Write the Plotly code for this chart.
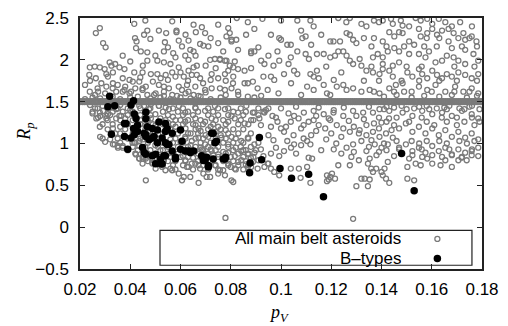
import plotly.graph_objects as go

# ---------------- data ----------------
# All main belt asteroids: scattered points (pV, Rp)
allmb_pts = [
    # upper-left region
    (0.0263,2.32),(0.0279,2.38),(0.0292,2.20),(0.0302,2.15),(0.0416,2.43),(0.046,2.47),(0.0419,2.26),(0.0425,2.22),
    (0.0468,2.35),(0.0455,2.30),(0.0423,2.14),(0.0442,2.10),(0.0468,2.09),(0.0514,2.35),(0.0543,2.32),(0.0567,2.46),
    (0.0584,2.35),(0.0584,2.33),(0.0538,2.21),(0.0593,2.23),(0.0632,2.23),(0.0652,2.42),(0.0661,2.33),(0.0698,2.32),
    (0.0685,2.39),(0.075,2.42),(0.079,2.38),(0.0796,2.32),(0.0783,2.28),(0.0803,2.24),(0.075,2.20),(0.0678,2.19),
    (0.0691,2.17),(0.0711,2.16),(0.0606,2.16),(0.0639,2.12),(0.0652,2.10),(0.0534,2.10),(0.0571,2.08),(0.037,2.05),
    (0.0468,1.99),(0.0508,1.99),(0.0534,1.97),(0.056,1.95),(0.058,2.03),(0.0619,2.05),(0.0632,2.00),(0.0718,2.00),
    (0.0737,2.01),(0.0757,2.01),(0.0777,1.99),(0.0796,1.93),(0.081,1.91),(0.0239,1.91),(0.0259,1.92),(0.0279,1.91),
    (0.0318,1.97),(0.0325,1.93),(0.0298,1.89),(0.0357,1.91),(0.0377,1.89),(0.0237,1.82),(0.0263,1.78),(0.0305,1.83),
    (0.0311,1.80),(0.0331,1.85),(0.0416,1.85),(0.0449,1.85),(0.0482,1.83),(0.0508,1.83),(0.0521,1.78),(0.0541,1.82),
    (0.0567,1.85),(0.0593,1.91),(0.060,1.85),(0.0613,1.80),(0.0632,1.87),(0.0652,1.91),(0.0665,1.93),(0.0645,1.82),
    (0.0665,1.82),(0.0678,1.78),(0.0724,1.83),(0.075,1.78),(0.0777,1.83),(0.079,1.87),(0.081,1.80),(0.037,1.78),
    (0.0397,1.76),(0.041,1.74),(0.0331,1.72),(0.0285,1.72),(0.0305,1.68),(0.0436,1.74),(0.0462,1.68),(0.0514,1.70),
    (0.0534,1.68),(0.0554,1.66),(0.0593,1.68),(0.0606,1.64),(0.0626,1.70),(0.0632,1.62),(0.0659,1.68),(0.0698,1.64),
    (0.0724,1.66),(0.0757,1.66),(0.0777,1.64),(0.0803,1.66),(0.0239,1.62),(0.0272,1.62),(0.0344,1.62),(0.037,1.62),
    (0.0397,1.60),(0.0449,1.64),(0.0468,1.58),(0.0495,1.58),(0.0534,1.57),(0.0567,1.58),(0.0586,1.57),(0.0652,1.58),
    (0.0672,1.57),(0.0824,2.50),(0.0803,2.22),(0.0822,2.24),(0.0861,2.30),(0.0829,2.12),(0.0881,2.10),(0.0757,2.00),
    (0.0783,1.99),(0.0816,1.98),(0.0829,1.89),(0.0855,1.87),(0.0881,1.90),(0.0809,1.72),(0.0829,1.62),(0.0855,1.72),
    (0.0377,1.64),(0.0403,1.62),(0.0449,1.66),(0.0501,1.60),(0.0534,1.62),
    (0.022,1.53),(0.025,1.55),(0.028,1.54),(0.033,1.56),(0.036,1.53),(0.040,1.55),(0.043,1.56),(0.048,1.54),
    (0.052,1.55),(0.056,1.53),(0.060,1.55),(0.064,1.54),(0.068,1.56),(0.072,1.53),(0.076,1.55),
    (0.022,1.70),(0.024,1.75),(0.027,1.66),(0.033,1.66),(0.035,1.70),(0.038,1.68),(0.042,1.66),(0.044,1.79),
    (0.049,1.74),(0.055,1.76),(0.058,1.80),(0.063,1.75),(0.069,1.72),(0.072,1.76),(0.078,1.75),(0.034,1.95),
    (0.040,1.98),(0.045,1.93),(0.050,2.05),(0.055,2.15),(0.062,2.30),(0.072,2.26),(0.077,2.10),(0.066,2.05),
    (0.070,1.93),(0.074,1.90),(0.048,2.25),(0.026,1.58),(0.030,1.60),(0.062,1.60),(0.070,1.61),(0.078,1.58),
    (0.083,1.58),
    # upper-right region
    (0.0926,2.49),(0.100,2.47),(0.1065,2.47),(0.1117,2.47),(0.1228,2.50),(0.1274,2.50),(0.126,2.45),(0.132,2.43),
    (0.137,2.47),(0.139,2.45),(0.1405,2.47),(0.1438,2.49),(0.1445,2.43),(0.1477,2.47),(0.1484,2.41),(0.1536,2.50),
    (0.1556,2.47),(0.1582,2.49),(0.1602,2.43),(0.1628,2.49),(0.1654,2.45),(0.1713,2.45),(0.0868,2.45),(0.0894,2.37),
    (0.096,2.30),(0.0993,2.26),(0.100,2.24),(0.1025,2.18),(0.1039,2.18),(0.1085,2.26),(0.1098,2.28),(0.1196,2.22),
    (0.1209,2.22),(0.1235,2.22),(0.1261,2.32),(0.1274,2.30),(0.1287,2.24),(0.130,2.20),(0.1405,2.22),(0.1431,2.33),
    (0.1451,2.28),(0.147,2.33),(0.1484,2.32),(0.151,2.22),(0.153,2.18),(0.1549,2.37),(0.1556,2.28),(0.1582,2.32),
    (0.1602,2.37),(0.1621,2.30),(0.1641,2.35),(0.1667,2.37),(0.1687,2.32),(0.1706,2.26),(0.1733,2.24),(0.1759,2.28),
    (0.1778,2.22),(0.1667,2.22),(0.1726,2.32),
    (0.0881,2.08),(0.0894,2.10),(0.0921,1.99),(0.0934,1.95),(0.0986,2.10),(0.0993,1.99),(0.1039,2.03),(0.1065,2.10),
    (0.1098,2.07),(0.1111,2.01),(0.1143,2.07),(0.117,2.07),(0.1196,2.03),(0.1215,2.05),(0.1228,2.10),(0.1248,2.10),
    (0.1261,2.05),(0.1274,1.99),(0.1287,1.95),(0.1313,2.01),(0.132,1.93),(0.1366,2.03),(0.1385,2.07),(0.1405,2.03),
    (0.1425,2.10),(0.1451,2.14),(0.147,2.10),(0.149,2.16),(0.151,2.07),(0.1405,1.95),(0.1445,1.93),(0.147,1.97),
    (0.1549,2.07),(0.1575,2.03),(0.1589,2.10),(0.1615,1.97),(0.1641,1.99),(0.166,2.05),(0.1687,2.03),(0.1706,1.99),
    (0.1733,1.95),(0.1766,2.07),(0.1785,1.99),(0.168,2.14),(0.1733,2.12),
    (0.0868,1.72),(0.0888,1.74),(0.0907,1.66),(0.0947,1.64),(0.096,1.80),(0.0973,1.76),(0.1012,1.83),(0.1052,1.87),
    (0.1065,1.83),(0.1117,1.83),(0.113,1.80),(0.1143,1.87),(0.115,1.78),(0.1104,1.68),(0.113,1.64),(0.1183,1.60),
    (0.1196,1.58),(0.1222,1.68),(0.1248,1.70),(0.1261,1.64),(0.1287,1.66),(0.134,1.87),(0.1366,1.85),(0.1392,1.83),
    (0.1405,1.89),(0.1431,1.87),(0.1445,1.80),(0.1353,1.64),(0.1392,1.60),(0.1431,1.66),(0.1457,1.70),(0.1484,1.72),
    (0.149,1.62),(0.1503,1.85),(0.1523,1.80),(0.1549,1.89),(0.1562,1.83),(0.1582,1.78),(0.1602,1.87),(0.1621,1.82),
    (0.1641,1.78),(0.166,1.83),(0.168,1.80),(0.1706,1.85),(0.1733,1.82),(0.1759,1.78),(0.1785,1.83),(0.1549,1.68),
    (0.1582,1.64),(0.1615,1.70),(0.1654,1.62),(0.1693,1.68),(0.1726,1.62),(0.1759,1.66),(0.1785,1.60),
    (0.0868,1.56),(0.0894,1.55),(0.0921,1.57),
    (0.141,1.56),(0.146,1.58),(0.152,1.55),(0.157,1.57),(0.163,1.56),(0.168,1.58),(0.174,1.55),(0.178,1.57),
    (0.134,2.40),(0.151,2.40),(0.168,2.40),(0.176,2.40),(0.133,2.26),(0.137,2.26),(0.158,2.26),(0.163,2.26),
    (0.175,2.26),(0.136,2.16),(0.142,2.16),(0.157,2.16),(0.162,2.16),(0.172,2.16),(0.178,2.16),(0.136,1.92),
    (0.150,1.92),(0.156,1.92),(0.169,1.92),(0.177,1.92),(0.133,1.75),(0.139,1.75),(0.148,1.75),(0.155,1.75),
    (0.163,1.75),(0.170,1.75),(0.178,1.75),(0.132,1.62),(0.137,1.62),(0.145,1.62),(0.152,1.62),(0.160,1.62),
    (0.169,1.62),(0.175,1.62),
    (0.091,2.15),(0.095,2.05),(0.097,1.93),(0.103,1.95),(0.108,2.35),(0.112,2.18),(0.116,2.30),(0.118,1.92),
    (0.121,1.76),(0.124,1.85),(0.104,1.72),(0.099,1.60),(0.108,1.58),(0.117,1.70),(0.093,1.80),(0.113,2.40),
    # below the band, left
    (0.0292,1.39),(0.0311,1.35),(0.0272,1.31),(0.0305,1.30),(0.0344,1.30),(0.0364,1.33),
    (0.0279,1.20),(0.0331,1.18),(0.0455,1.45),(0.0482,1.47),(0.0514,1.45),(0.0541,1.43),(0.0482,1.30),(0.0501,1.22),
    (0.0527,1.26),(0.0541,1.16),(0.0338,0.99),(0.0351,0.95),(0.037,0.97),(0.0416,1.01),(0.0436,0.97),(0.0449,0.82),
    (0.0482,0.85),(0.0501,0.76),(0.0534,0.80),(0.0488,0.76),
    (0.0279,1.37),(0.0305,1.33),(0.0265,1.30),(0.0344,1.41),(0.0357,1.33),(0.0331,0.99),(0.0351,0.97),(0.037,0.95),
    (0.0409,1.01),(0.0436,1.03),(0.0423,0.87),(0.0436,0.82),(0.0449,0.76),(0.0501,0.70),(0.054,0.68),(0.0567,0.68),
    (0.0619,0.80),(0.0632,0.72),(0.0659,0.76),(0.0678,0.70),(0.0698,0.80),(0.0737,0.74),(0.0757,0.68),(0.079,0.76),
    (0.0816,0.70),(0.0842,0.80),(0.0868,0.72),(0.0888,0.78),
    (0.0436,1.45),(0.0475,1.41),(0.0514,1.45),(0.0554,1.41),(0.0593,1.45),(0.0619,1.37),(0.0659,1.43),(0.0698,1.39),
    (0.0737,1.45),(0.0777,1.41),(0.0803,1.33),(0.0829,1.37),(0.0862,1.45),(0.0888,1.37),
    (0.0619,1.26),(0.0659,1.30),(0.0672,1.18),(0.0698,1.26),(0.0724,1.30),(0.075,1.20),(0.079,1.26),(0.0816,1.30),
    (0.0855,1.24),(0.0881,1.28),
    (0.0619,1.08),(0.0645,1.03),(0.0672,1.07),(0.0698,0.99),(0.0711,1.08),(0.0763,1.07),(0.079,0.99),(0.0803,1.08),
    (0.0842,1.03),(0.0868,1.07),(0.0894,0.99),
    (0.0659,0.91),(0.0685,0.93),(0.0724,0.91),(0.075,0.87),(0.079,0.89),(0.0816,0.85),(0.0842,0.91),(0.0868,0.87),
    (0.0894,0.89),
    (0.040,1.40),(0.042,1.35),(0.044,1.28),(0.046,1.22),(0.048,1.15),(0.050,1.35),(0.052,1.30),(0.055,1.25),
    (0.057,1.32),(0.058,1.20),(0.060,1.28),(0.062,1.18),(0.064,1.12),(0.066,1.22),(0.068,1.15),(0.070,1.10),
    (0.072,1.20),(0.074,1.14),(0.076,1.10),(0.078,1.16),(0.038,1.30),(0.036,1.20),(0.034,1.12),(0.032,1.05),
    (0.030,1.02),(0.028,1.08),(0.056,1.05),(0.060,1.02),(0.064,0.98),(0.068,0.95),(0.072,0.93),(0.045,1.05),
    (0.050,0.98),(0.053,0.92),(0.057,0.88),(0.061,0.85),(0.065,0.83),(0.069,0.88),(0.073,0.86),(0.077,0.90),
    (0.082,0.95),(0.085,0.92),(0.088,0.83),(0.091,0.80),(0.093,0.85),(0.095,0.76),(0.083,0.78),(0.086,0.75),
    (0.080,0.72),(0.077,0.68),
    (0.024,1.46),(0.026,1.42),(0.029,1.45),(0.033,1.43),(0.036,1.46),(0.039,1.42),(0.025,1.36),(0.028,1.33),
    (0.027,1.42),(0.031,1.42),(0.035,1.42),(0.044,1.42),(0.048,1.42),(0.057,1.42),(0.061,1.42),(0.066,1.42),
    (0.071,1.42),(0.075,1.42),(0.079,1.42),(0.084,1.42),(0.091,1.42),(0.095,1.42),
    (0.025,1.38),(0.033,1.38),(0.037,1.38),(0.041,1.38),(0.046,1.38),(0.053,1.38),(0.059,1.38),(0.063,1.38),
    (0.067,1.38),(0.073,1.38),(0.081,1.38),(0.086,1.38),(0.093,1.38),
    (0.032,1.34),(0.039,1.34),(0.044,1.34),(0.048,1.34),(0.055,1.34),(0.061,1.34),(0.065,1.34),(0.071,1.34),
    (0.075,1.34),(0.079,1.34),(0.085,1.34),(0.091,1.34),
    (0.031,1.28),(0.036,1.28),(0.041,1.28),(0.047,1.28),(0.054,1.28),(0.058,1.28),(0.063,1.28),(0.068,1.28),
    (0.074,1.28),(0.077,1.28),(0.084,1.28),(0.089,1.28),
    (0.029,1.23),(0.033,1.23),(0.039,1.23),(0.044,1.23),(0.049,1.23),(0.053,1.23),(0.057,1.23),(0.061,1.23),
    (0.065,1.23),(0.069,1.23),(0.073,1.23),(0.078,1.23),(0.083,1.23),(0.087,1.23),
    (0.031,1.17),(0.038,1.17),(0.043,1.17),(0.046,1.17),(0.051,1.17),(0.056,1.17),(0.060,1.17),(0.066,1.17),
    (0.071,1.17),(0.076,1.17),(0.081,1.17),(0.085,1.17),
    (0.036,1.12),(0.041,1.12),(0.049,1.12),(0.053,1.12),(0.059,1.12),(0.063,1.12),(0.067,1.12),(0.073,1.12),
    (0.079,1.12),(0.083,1.12),(0.088,1.12),
    (0.029,1.06),(0.035,1.06),(0.039,1.06),(0.044,1.06),(0.051,1.06),(0.058,1.06),(0.062,1.06),(0.066,1.06),
    (0.069,1.06),(0.074,1.06),(0.078,1.06),(0.082,1.06),(0.087,1.06),
    (0.036,1.01),(0.042,1.01),(0.047,1.01),(0.053,1.01),(0.057,1.01),(0.061,1.01),(0.068,1.01),(0.072,1.01),
    (0.077,1.01),(0.081,1.01),(0.085,1.01),(0.091,1.01),
    (0.041,0.96),(0.046,0.96),(0.051,0.96),(0.055,0.96),(0.059,0.96),(0.063,0.96),(0.066,0.96),(0.071,0.96),
    (0.075,0.96),(0.079,0.96),(0.084,0.96),(0.088,0.96),
    (0.039,0.92),(0.043,0.92),(0.048,0.92),(0.052,0.92),(0.062,0.92),(0.069,0.92),(0.074,0.92),(0.081,0.92),
    (0.086,0.92),(0.090,0.92),
    (0.042,0.88),(0.047,0.88),(0.055,0.88),(0.059,0.88),(0.064,0.88),(0.067,0.88),(0.071,0.88),(0.078,0.88),
    (0.083,0.88),(0.087,0.88),
    (0.045,0.84),(0.052,0.84),(0.056,0.84),(0.060,0.84),(0.063,0.84),(0.068,0.84),(0.075,0.84),(0.080,0.84),
    (0.085,0.84),(0.089,0.84),
    (0.047,0.79),(0.055,0.79),(0.058,0.79),(0.062,0.79),(0.067,0.79),(0.072,0.79),(0.077,0.79),(0.081,0.79),
    (0.086,0.79),
    (0.053,0.74),(0.057,0.74),(0.061,0.74),(0.069,0.74),(0.074,0.74),(0.079,0.74),(0.083,0.74),(0.087,0.74),
    (0.058,0.69),(0.065,0.69),(0.071,0.69),(0.075,0.69),(0.082,0.69),(0.085,0.69),
    # lower region
    (0.0436,0.82),(0.0462,0.82),(0.0488,0.80),(0.0514,0.80),(0.0527,0.72),(0.056,0.70),(0.0593,0.64),(0.0613,0.60),
    (0.0639,0.60),(0.0606,0.56),(0.0672,0.53),(0.0691,0.64),(0.0704,0.60),(0.0718,0.60),(0.075,0.64),(0.0777,0.62),
    (0.0803,0.56),(0.081,0.54),(0.0462,0.56),(0.0779,0.11),(0.0626,0.72),(0.0645,0.76),(0.0672,0.74),(0.0488,0.77),
    (0.0514,0.76),
    (0.0881,0.72),(0.0907,0.70),(0.0934,0.72),(0.0947,0.76),(0.096,0.70),(0.0973,0.66),(0.0993,0.62),(0.1039,0.70),
    (0.1071,0.70),(0.1104,0.72),(0.1117,0.53),(0.1078,0.59),(0.111,0.83),(0.1124,0.82),(0.1183,0.62),(0.1196,0.60),
    (0.119,0.57),(0.1203,0.64),(0.1215,0.58),(0.1228,0.74),(0.1183,0.55),(0.1274,0.74),(0.130,0.49),(0.132,0.58),
    (0.1333,0.58),(0.1346,0.49),(0.1353,0.57),(0.1359,0.70),(0.1366,0.66),(0.1379,0.70),(0.140,0.66),(0.1405,0.62),
    (0.1412,0.70),(0.1418,0.58),(0.1431,0.53),(0.1425,0.78),(0.1503,0.72),(0.1503,0.58),(0.153,0.56),(0.1287,0.10),
    (0.1353,0.82),(0.1346,0.76),
    (0.151,0.82),(0.1536,0.76),(0.1556,0.74),(0.1582,0.82),(0.1602,0.76),(0.1635,0.74),(0.1654,0.80),(0.168,0.72),
    (0.1706,0.80),(0.1719,0.83),(0.1739,0.80),(0.1785,0.85),
    # below the band, middle and right
    (0.0894,1.37),(0.0914,1.30),(0.0934,1.37),(0.0966,1.33),(0.0986,1.26),(0.100,1.18),(0.1012,1.14),(0.1039,1.26),
    (0.1052,1.33),(0.1025,1.03),(0.1052,0.99),(0.1012,0.91),(0.0993,0.85),(0.1104,1.03),(0.1117,0.99),(0.111,1.26),
    (0.113,1.28),(0.115,1.22),(0.1176,1.18),(0.1196,1.28),(0.1222,1.22),(0.1091,1.37),(0.113,1.39),(0.117,1.35),
    (0.1209,1.37),(0.1248,1.33),(0.1287,1.39),(0.1327,1.37),(0.1366,1.37),(0.1392,1.41),(0.1431,1.39),(0.1248,1.18),
    (0.1274,1.14),(0.1313,1.16),(0.134,1.10),(0.1366,1.14),(0.1392,1.08),(0.1418,1.12),(0.1445,1.07),(0.1261,0.95),
    (0.1287,0.99),(0.132,1.03),(0.134,0.91),(0.1373,0.99),(0.140,0.95),(0.1425,0.99),
    (0.147,1.18),(0.1497,1.24),(0.1523,1.14),(0.1549,1.20),(0.1575,1.12),(0.1602,1.18),(0.1628,1.10),(0.1654,1.16),
    (0.168,1.08),(0.1706,1.14),(0.1733,1.07),(0.1759,1.12),(0.1785,1.05),(0.1484,1.37),(0.1523,1.33),(0.1562,1.39),
    (0.1602,1.35),(0.1641,1.37),(0.168,1.33),(0.172,1.39),(0.1759,1.35),(0.1785,1.30),(0.1497,0.99),(0.1523,0.91),
    (0.1549,0.95),(0.1575,0.89),(0.1602,0.97),(0.1628,0.91),(0.1654,0.95),(0.168,0.87),(0.1706,0.93),(0.1733,0.89),
    (0.1759,0.91),(0.1785,0.95),(0.1523,0.86),(0.1562,0.84),(0.1602,0.86),(0.1641,0.84),(0.168,0.86),(0.172,0.84),
    (0.1759,0.86),
    (0.092,1.22),(0.095,1.10),(0.097,1.04),(0.108,1.18),(0.118,1.05),(0.122,1.00),(0.124,0.88),(0.116,0.92),
    (0.106,0.88),(0.104,0.95),(0.128,0.84),(0.131,0.80),(0.138,0.86),(0.142,0.92),(0.145,0.85),(0.147,0.95),
    (0.112,1.10),(0.134,1.22),(0.140,1.25),(0.143,1.30),(0.100,1.42),(0.106,1.44),(0.115,1.43),(0.125,1.43),
    (0.135,1.44),(0.145,1.43),(0.155,1.44),(0.165,1.43),(0.175,1.44),
    (0.142,1.44),(0.148,1.45),(0.153,1.42),(0.158,1.45),(0.162,1.42),(0.167,1.45),(0.171,1.42),(0.176,1.45),
    (0.141,1.41),(0.150,1.41),(0.159,1.41),(0.166,1.41),(0.173,1.41),(0.179,1.41),(0.146,1.31),(0.156,1.31),
    (0.164,1.31),(0.170,1.31),(0.176,1.31),(0.142,1.26),(0.151,1.26),(0.158,1.26),(0.166,1.26),(0.173,1.26),
    (0.179,1.26),(0.145,1.22),(0.161,1.22),(0.170,1.22),(0.177,1.22),(0.146,1.03),(0.152,1.03),(0.158,1.03),
    (0.163,1.03),(0.171,1.03),(0.177,1.03),(0.141,1.00),(0.155,1.00),(0.166,1.00),(0.174,1.00),(0.147,0.93),
    (0.156,0.93),(0.167,0.93),(0.176,0.93),
    (0.094,1.40),(0.098,1.31),(0.103,1.36),(0.107,1.30),(0.109,1.22),(0.114,1.33),(0.119,1.30),(0.121,1.40),
    (0.127,1.27),(0.130,1.33),(0.133,1.29),(0.137,1.24),(0.139,1.31),(0.096,1.20),(0.102,1.20),(0.105,1.10),
    (0.109,1.06),(0.114,1.15),(0.120,1.12),(0.124,1.08),(0.129,1.20),(0.131,1.12),(0.136,1.04),(0.139,1.18),
    (0.144,1.16),(0.098,0.95),(0.108,0.98),(0.121,0.93),(0.129,0.90),(0.135,0.96),(0.139,0.90),(0.092,0.93),
    (0.096,0.88),
]
allmb_x = [p[0] for p in allmb_pts]
allmb_y = [p[1] for p in allmb_pts]

# All main belt asteroids sitting on the Rp = 1.5 line
band_x = [0.0200,0.0210,0.0218,0.0227,0.0236,0.0245,0.0253,0.0262,0.0270,0.0279,0.0288,0.0296,0.0305,0.0313,
          0.0322,0.0331,0.0339,0.0348,0.0356,0.0365,0.0374,0.0382,0.0391,0.0399,0.0408,0.0417,0.0425,0.0434,
          0.0442,0.0451,0.0460,0.0468,0.0477,0.0485,0.0494,0.0503,0.0511,0.0520,0.0528,0.0537,0.0546,0.0554,
          0.0563,0.0571,0.0580,0.0589,0.0597,0.0606,0.0614,0.0623,0.0632,0.0640,0.0649,0.0657,0.0666,0.0675,
          0.0683,0.0692,0.0700,0.0709,0.0718,0.0726,0.0735,0.0743,0.0752,0.0761,0.0769,0.0778,0.0786,0.0795,
          0.0804,0.0812,0.0821,0.0829,0.0838,0.0847,0.0855,0.0864,0.0872,0.0881,0.0890,0.0898,0.0907,0.0915,
          0.0924,0.0933,0.0941,0.0950,0.0958,0.0967,0.0976,0.0984,0.0993,0.1001,0.1010,0.1019,0.1027,0.1036,
          0.1044,0.1053,0.1062,0.1070,0.1079,0.1087,0.1096,0.1105,0.1113,0.1122,0.1130,0.1139,0.1148,0.1156,
          0.1165,0.1173,0.1182,0.1191,0.1199,0.1208,0.1216,0.1225,0.1234,0.1242,0.1251,0.1259,0.1268,0.1277,
          0.1285,0.1294,0.1302,0.1311,0.1320,0.1328,0.1337,0.1345,0.1354,0.1363,0.1371,0.1380,0.1388,0.1397,
          0.1406,0.1414,0.1423,0.1431,0.1440,0.1449,0.1457,0.1466,0.1474,0.1483,0.1492,0.1500,0.1509,0.1517,
          0.1526,0.1535,0.1543,0.1552,0.1560,0.1569,0.1578,0.1586,0.1595,0.1603,0.1612,0.1621,0.1629,0.1638,
          0.1646,0.1655,0.1664,0.1672,0.1681,0.1689,0.1698,0.1707,0.1715,0.1724,0.1732,0.1741,0.1750,0.1758,
          0.1767,0.1775,0.1784,0.1793,0.1800]
band_rp = 1.5
band_y = [band_rp] * len(band_x)

# B-types
btype_pts = [
    (0.0318,1.565),(0.0311,1.44),(0.0338,1.45),(0.0413,1.51),(0.0403,1.46),(0.0416,1.354),(0.0423,1.30),(0.0377,1.24),
    (0.0413,1.18),(0.0462,1.373),(0.0462,1.297),(0.0416,1.104),(0.0403,1.066),(0.0429,1.142),(0.0325,1.11),(0.039,0.93),
    (0.0462,1.104),(0.0475,1.046),(0.0495,1.084),(0.0508,1.008),(0.0455,0.893),(0.0501,0.873),(0.0521,0.815),(0.0527,0.758),
    (0.054,1.008),(0.0377,1.084),(0.0383,1.238),(0.0429,1.219),(0.0488,1.18),(0.0455,1.123),(0.0514,1.257),(0.054,1.238),
    (0.054,1.142),(0.0547,0.989),(0.0567,1.123),(0.060,1.162),(0.0567,0.911),(0.058,0.815),(0.0619,0.911),(0.0639,0.893),
    (0.0652,0.911),(0.0684,0.854),(0.0704,0.835),(0.0691,0.796),(0.0711,0.72),(0.073,0.815),(0.073,1.123),(0.0743,1.027),
    (0.0776,0.815),(0.0488,0.854),(0.0501,0.758),(0.0462,0.873),(0.054,0.854),(0.0468,1.20),(0.0508,1.162),(0.0547,1.18),
    (0.0488,1.066),(0.0462,1.084),(0.0527,1.066),(0.0554,0.989),(0.0606,1.027),(0.060,0.93),(0.0632,0.911),(0.0449,0.951),
    (0.0534,0.854),(0.058,0.835),(0.0521,0.758),(0.0697,0.796),(0.0711,0.738),(0.0737,1.008),(0.0724,1.123),(0.077,0.815),
    (0.0914,1.073),(0.078,0.835),(0.0877,0.766),(0.0875,0.65),(0.0923,0.807),(0.0996,0.70),(0.1042,0.585),(0.111,0.631),
    (0.1169,0.365),(0.148,0.881),(0.153,0.435),
]
btype_x = [p[0] for p in btype_pts]
btype_y = [p[1] for p in btype_pts]

legend_labels = ["All main belt asteroids", "B\u2013types"]
x_ticks = [0.02, 0.04, 0.06, 0.08, 0.1, 0.12, 0.14, 0.16, 0.18]
y_ticks = [-0.5, 0, 0.5, 1, 1.5, 2, 2.5]

# ---------------- figure ----------------
GRAY = "#7a7a7a"
fig = go.Figure()
fig.add_trace(go.Scatter(
    x=allmb_x, y=allmb_y, mode="markers", showlegend=False,
    marker=dict(symbol="circle-open", size=5, color=GRAY, line=dict(width=1.3, color=GRAY)),
    hoverinfo="skip"))
fig.add_trace(go.Scatter(
    x=band_x, y=band_y, mode="markers", showlegend=False,
    marker=dict(symbol="circle-open", size=5, color=GRAY, line=dict(width=2.2, color=GRAY)),
    hoverinfo="skip"))
fig.add_trace(go.Scatter(
    x=btype_x, y=btype_y, mode="markers", showlegend=False,
    marker=dict(symbol="circle", size=7.5, color="black", line=dict(width=0)),
    hoverinfo="skip"))

# legend swatches on an overlay axis in [0,1]
fig.add_trace(go.Scatter(
    x=[0.889], y=[0.12], mode="markers", xaxis="x2", yaxis="y2", showlegend=False,
    marker=dict(symbol="circle-open", size=5, color=GRAY, line=dict(width=1.3, color=GRAY))))
fig.add_trace(go.Scatter(
    x=[0.889], y=[0.042], mode="markers", xaxis="x2", yaxis="y2", showlegend=False,
    marker=dict(symbol="circle", size=7.5, color="black")))

axis_common = dict(showline=True, linecolor="#222", linewidth=1.5, mirror="ticks", ticks="inside",
                   ticklen=5, tickwidth=1, tickcolor="#222", showgrid=False, zeroline=False,
                   tickfont=dict(family="Liberation Sans, Arial, sans-serif", size=17, color="black"))

legend_font = dict(family="Liberation Sans, Arial, sans-serif", size=17, color="black")
fig.update_layout(
    width=508, height=326,
    margin=dict(l=80, r=21, t=9, b=57),
    paper_bgcolor="white", plot_bgcolor="white",
    xaxis=dict(range=[0.02, 0.18], tickvals=x_ticks, ticklabelstandoff=4, **axis_common),
    yaxis=dict(range=[-0.5, 2.5], tickvals=y_ticks, ticklabelstandoff=6, **axis_common),
    xaxis2=dict(overlaying="x", range=[0, 1], visible=False),
    yaxis2=dict(overlaying="y", range=[0, 1], visible=False),
    shapes=[dict(type="rect", xref="paper", yref="paper", x0=0.199, x1=0.975, y0=0.015, y1=0.154,
                 line=dict(color="#222", width=1.2), fillcolor="white", layer="below")],
    annotations=[
        dict(text=legend_labels[0], xref="paper", yref="paper", x=0.8034, y=0.12, xanchor="right",
             yanchor="middle", showarrow=False, height=17, valign="middle", font=legend_font),
        dict(text=legend_labels[1], xref="paper", yref="paper", x=0.8034, y=0.042, xanchor="right",
             yanchor="middle", showarrow=False, height=17, valign="middle", font=legend_font),
        dict(text="<i>p</i><sub><i>V</i></sub>", xref="paper", yref="paper", x=0.496, y=-0.177,
             xanchor="center", yanchor="middle", showarrow=False,
             font=dict(family="Liberation Serif, Times New Roman, serif", size=18, color="black")),
        dict(text="<i>R</i><sub><i>p</i></sub>", xref="paper", yref="paper", x=-0.135, y=0.546,
             xanchor="center", yanchor="middle", showarrow=False, textangle=-90,
             font=dict(family="Liberation Serif, Times New Roman, serif", size=18, color="black")),
    ],
)

fig.write_html("out.html")
